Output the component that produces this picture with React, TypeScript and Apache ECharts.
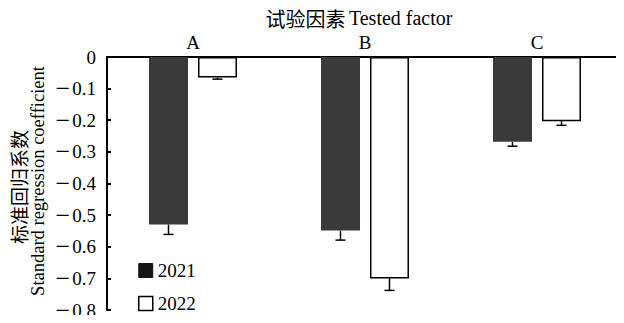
import React, { useEffect, useRef } from "react";
import * as echarts from "echarts";

// Tested factors and standard regression coefficients by year
const factors = ["A", "B", "C"];
const years = ["2021", "2022"];
const coef2021 = [-0.53, -0.549, -0.268];
const coef2022 = [-0.065, -0.7, -0.203];
// standard errors (drawn below each bar)
const err2021 = [0.031, 0.03, 0.014];
const err2022 = [0.005, 0.038, 0.013];
const yTicks = { min: -0.8, max: 0, interval: 0.1 };

const SERIF = "Liberation Serif, serif";
const CJK = "Noto Sans CJK SC, sans-serif";
const FS = 19;

const BAR_W = 39;
const BAR_GAP = 10;

function errorSeries(name: string, values: number[], errs: number[], side: number) {
  const data = values.map((v, i) => [i, v, v - errs[i]]);
  return {
    type: "custom",
    name: name + "-err",
    data,
    z: 5,
    renderItem: (params: any, api: any) => {
      const i = api.value(0);
      const top = api.coord([i, api.value(1)]);
      const bot = api.coord([i, api.value(2)]);
      const x = top[0] + side * (BAR_W + BAR_GAP) / 2;
      const cap = 5;
      const st = { stroke: "#000", lineWidth: 1.5 };
      return {
        type: "group",
        children: [
          { type: "line", shape: { x1: x, y1: top[1], x2: x, y2: bot[1] }, style: st },
          { type: "line", shape: { x1: x - cap, y1: bot[1], x2: x + cap, y2: bot[1] }, style: st },
        ],
      };
    },
  };
}

export default function App() {
  const ref = useRef<HTMLDivElement>(null);

  useEffect(() => {
    if (!ref.current) return;
    const chart = echarts.init(ref.current, null, { renderer: "svg" });
    chart.setOption({
      animation: false,
      backgroundColor: "#fff",
      textStyle: { fontFamily: SERIF },
      grid: { left: 107, right: 1, top: 57, bottom: 10, containLabel: false },
      legend: {
        orient: "vertical",
        left: 133,
        top: 256,
        itemWidth: 14,
        itemHeight: 14,
        itemGap: 14,
        textStyle: { fontFamily: SERIF, fontSize: FS, color: "#000" },
        data: [
          { name: years[0], icon: "rect", itemStyle: { color: "#151515", borderColor: "#151515", borderWidth: 1 } },
          { name: years[1], icon: "rect", itemStyle: { color: "#fff", borderColor: "#000", borderWidth: 1.5 } },
        ],
      },
      xAxis: {
        type: "category",
        position: "top",
        data: factors,
        axisLine: { lineStyle: { color: "#000", width: 2 } },
        axisTick: { inside: true, length: 4, lineStyle: { color: "#000", width: 2 } },
        axisLabel: { fontFamily: SERIF, fontSize: FS, color: "#000", margin: 5 },
        splitLine: { show: false },
      },
      yAxis: {
        type: "value",
        min: yTicks.min,
        max: yTicks.max,
        interval: yTicks.interval,
        axisLine: { show: true, lineStyle: { color: "#000", width: 2 } },
        axisTick: { show: true, inside: true, length: 4, lineStyle: { color: "#000", width: 2 } },
        axisLabel: {
          fontFamily: SERIF,
          fontSize: FS,
          color: "#000",
          margin: 11,
          formatter: (v: number) => {
            const r = Math.round(v * 10) / 10;
            if (r === 0) return "{n|0}";
            return "{m|\u2212}{n|" + Math.abs(r).toFixed(1) + "}";
          },
          rich: {
            m: { fontFamily: SERIF, fontSize: 26, color: "#000", padding: [0, 2, 0, 0] },
            n: { fontFamily: SERIF, fontSize: FS, color: "#000" },
          },
        },
        splitLine: { show: false },
      },
      graphic: [
        {
          type: "text",
          x: 359,
          y: 18,
          style: {
            text: "{c|试验因素} {e|Tested factor}",
            rich: {
              c: { fontFamily: CJK, fontSize: 20, fill: "#000" },
              e: { fontFamily: SERIF, fontSize: 20, fill: "#000" },
            },
            fill: "#000",
            textAlign: "center",
            textVerticalAlign: "middle",
          },
        },
        {
          type: "text",
          x: 18,
          y: 187,
          rotation: Math.PI / 2,
          style: {
            text: "标准回归系数",
            fontFamily: CJK,
            fontSize: FS,
            fill: "#000",
            textAlign: "center",
            textVerticalAlign: "middle",
          },
        },
        {
          type: "text",
          x: 38,
          y: 181,
          rotation: Math.PI / 2,
          style: {
            text: "Standard regression coefficient",
            fontFamily: SERIF,
            fontSize: 18.5,
            fill: "#000",
            textAlign: "center",
            textVerticalAlign: "middle",
          },
        },
      ],
      series: [
        {
          type: "bar",
          name: years[0],
          data: coef2021,
          barWidth: BAR_W,
          barGap: ((BAR_GAP / BAR_W) * 100).toFixed(1) + "%",
          itemStyle: { color: "#3a3a3a" },
        },
        {
          type: "bar",
          name: years[1],
          data: coef2022,
          barWidth: BAR_W,
          itemStyle: { color: "#fff", borderColor: "#000", borderWidth: 1.5 },
        },
        errorSeries(years[0], coef2021, err2021, -1),
        errorSeries(years[1], coef2022, err2022, 1),
      ],
    });
    return () => chart.dispose();
  }, []);

  return <div ref={ref} style={{ width: 624, height: 323, margin: -8 }} />;
}
